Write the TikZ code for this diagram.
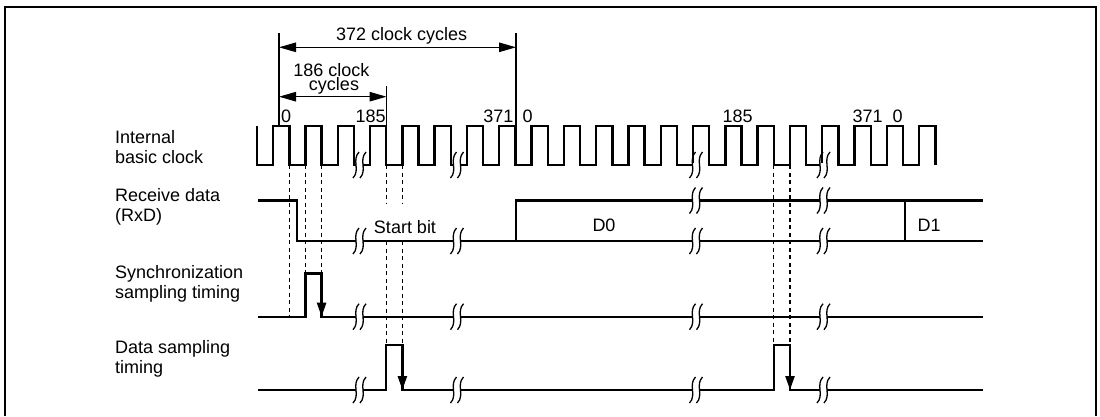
\documentclass[tikz,border=0pt]{standalone}
\usepackage{fontspec}
\setmainfont{Liberation Sans}
\usetikzlibrary{arrows.meta}
\newcommand{\brkmark}[2]{%
  \draw[white,line width=5pt] ({#1-3.5},#2) -- ({#1+3.5},#2);
  \foreach \dx in {-3.5,3.5}{%
    \draw[brk] ({#1+\dx+3},{#2-13}) .. controls ({#1+\dx-4.5},{#2-5}) and ({#1+\dx+4.5},{#2+5}) .. ({#1+\dx-3},{#2+13});}%
}
\begin{document}
\begin{tikzpicture}[x=1pt,y=-1pt,
  sig/.style={line width=2.4pt, line join=miter},
  dim/.style={line width=1.1pt},
  dsh/.style={line width=1.1pt, dash pattern=on 4pt off 3.5pt},
  lbl/.style={font=\fontsize{18}{20}\selectfont, inner sep=0pt},
  dimarrow/.style={dim, {Triangle[length=17pt,width=9.5pt]}-{Triangle[length=17pt,width=9.5pt]}},
  samp/.style={sig, -{Triangle[length=14pt,width=9pt]}},
  brk/.style={line width=1.3pt},
]
\useasboundingbox (0,0) rectangle (1100,416);
% frame
\draw[line width=2pt] (4.5,416) -- (4.5,6.5) -- (1096,6.5) -- (1096,416);

% left labels
\node[lbl, anchor=base west] (l1a) at (115,143.3) {Internal};
\node[lbl, anchor=base west] (l1b) at (115,163.3) {basic clock};
\node[lbl, anchor=base west] (l2a) at (115,201.7) {Receive data};
\node[lbl, anchor=base west] (l2b) at (115,221.7) {(RxD)};
\node[lbl, anchor=base west] (l3a) at (115,278.3) {Synchronization};
\node[lbl, anchor=base west] (l3b) at (115,298.8) {sampling timing};
\node[lbl, anchor=base west] (l4a) at (115,353.3) {Data sampling};
\node[lbl, anchor=base west] (l4b) at (115,373.3) {timing};

% dashed guide lines
\draw[dsh] (289.3,165) -- (289.3,316.7);
\draw[dsh] (305.5,165) -- (305.5,273.3);
\draw[dsh] (321.6,165) -- (321.6,273.3);
\draw[dsh] (386.2,165) -- (386.2,203) (386.2,241) -- (386.2,345);
\draw[dsh] (402.4,165) -- (402.4,203) (402.4,241) -- (402.4,345);
\draw[dsh] (773.8,165) -- (773.8,345);
\draw[dsh] (790,165) -- (790,345);

% clock
\def\hp{16.15}
\draw[sig] (257,126) -- (257,165)
  \foreach \k in {0,...,20} { -- ({257+\hp*(2*\k+1)},165) -- ++(0,-39) -- ++(\hp,0) -- ++(0,39) };

% receive data
\draw[sig] (258,200.5) -- (296.7,200.5) -- (296.7,241) -- (983,241);
\draw[sig] (516,241) -- (516,200.5) -- (983,200.5);
\draw[sig] (905,200.5) -- (905,241);

% synchronization sampling
\draw[sig] (258,316.7) -- (305.5,316.7) -- (305.5,273.3) -- (321.6,273.3) -- (321.6,316.7) -- (983,316.7);
\draw[samp] (321.6,290) -- (321.6,316.7);

% data sampling
\draw[sig] (258,390) -- (386.2,390) -- (386.2,345) -- (402.4,345) -- (402.4,390) -- (773.8,390) -- (773.8,345) -- (790,345) -- (790,390) -- (983,390);
\draw[samp] (402.4,365) -- (402.4,390);
\draw[samp] (790,365) -- (790,390);

% break marks
\foreach \bx in {359.5,457,696,823.5}{
  \brkmark{\bx}{165}
  \brkmark{\bx}{241}
  \brkmark{\bx}{316.7}
  \brkmark{\bx}{390}
}
\brkmark{696}{200.5}
\brkmark{823.5}{200.5}

% dimension lines
\draw[dim] (279,33) -- (279,126);
\draw[dim] (516,33) -- (516,126);
\draw[dim] (386.5,86) -- (386.5,126);
\draw[dimarrow] (279,47.3) -- (516,47.3);
\draw[dimarrow] (279,96.7) -- (386.5,96.7);
\node[lbl, anchor=base] (t372) at (401.7,40.7) {372 clock cycles};
\node[lbl, anchor=base] (t186a) at (331.5,76.2) {186 clock};
\node[lbl, anchor=base] (t186b) at (334,90.4) {cycles};

% count labels
\node[lbl, anchor=base west] (c0a) at (280.8,122) {0};
\node[lbl, anchor=base east] (c185a) at (385.8,122) {185};
\node[lbl, anchor=base east] (c371a) at (513.5,122) {371};
\node[lbl, anchor=base west] (c0b) at (522.5,122) {0};
\node[lbl, anchor=base west] (c185b) at (722.5,122) {185};
\node[lbl, anchor=base west] (c371b) at (852.5,122) {371};
\node[lbl, anchor=base west] (c0c) at (892.5,122) {0};

% data labels
\node[lbl, anchor=base] (sb) at (405,233) {Start bit};
\node[lbl, anchor=base] (d0) at (604,231.7) {D0};
\node[lbl, anchor=base] (d1) at (929.2,231.7) {D1};
\end{tikzpicture}
\end{document}
